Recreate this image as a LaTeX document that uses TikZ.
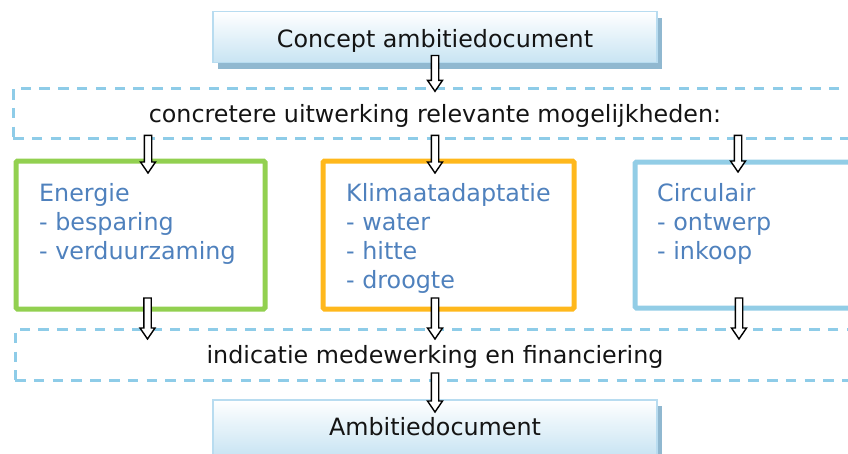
\documentclass[tikz,border=0pt]{standalone}
\usepackage{fontspec}
\setmainfont{DejaVu Sans}
\usetikzlibrary{calc,shadows}
\definecolor{dashblue}{RGB}{142,204,232}
\definecolor{boxgreen}{RGB}{146,208,80}
\definecolor{boxorange}{RGB}{255,184,28}
\definecolor{boxblue}{RGB}{146,205,230}
\definecolor{txtblue}{RGB}{79,129,189}
\definecolor{hdrborder}{RGB}{184,220,240}
\definecolor{hdrshadow}{RGB}{144,184,208}
\definecolor{hdrbottom}{RGB}{200,228,243}
\definecolor{txtblack}{RGB}{20,20,20}
\newcommand\blockarrow[2]{\draw[fill=white,line width=1.4pt,line join=miter]
  let \p1=(#1),\p2=(#2) in
  (\x1-3.7pt,\y1) -- (\x1+3.7pt,\y1) -- (\x1+3.7pt,\y2+11pt) -- (\x1+7.5pt,\y2+11pt)
  -- (\x1,\y2) -- (\x1-7.5pt,\y2+11pt) -- (\x1-3.7pt,\y2+11pt) -- cycle;}
\tikzset{
  hdr/.style={draw=hdrborder, line width=1.8pt, top color=white, bottom color=hdrbottom,
    inner sep=0pt, outer sep=0pt, text=txtblack,
    drop shadow={shadow xshift=5pt, shadow yshift=-6pt, fill=hdrshadow, opacity=1}},
  dashbox/.style={draw=dashblue, line width=3pt, dash pattern=on 10.5pt off 8.3pt,
    inner sep=0pt, outer sep=0pt},
  catbox/.style={line width=5pt, rounded corners=1.5pt, inner sep=0pt, outer sep=0pt},
  cattext/.style={anchor=north west, align=left, text=txtblue, inner sep=0pt},
  midtext/.style={anchor=base, text=txtblack, inner sep=0pt},
}
\begin{document}
\begin{tikzpicture}[x=1pt,y=-1pt]
\useasboundingbox (0,0) rectangle (848,453);
\clip (0,0) rectangle (848,453);
\fontsize{23.8}{29}\selectfont
% header boxes
\node[hdr, minimum width=444pt, minimum height=51pt] (top) at (435,37) {};
\node[midtext] (toptext) at (435,47) {Concept ambitiedocument};
\node[hdr, minimum width=444pt, minimum height=56pt] (bottom) at (435,428) {};
\node[midtext] (bottomtext) at (435,435) {Ambitiedocument};
% dashed bands
\node[dashbox, minimum width=877pt, minimum height=50pt] (dash1) at (451.5,113.3) {};
\node[midtext] (t1) at (435,122.7) {concretere uitwerking relevante mogelijkheden:};
\node[dashbox, minimum width=875pt, minimum height=51pt] (dash2) at (452.5,354.5) {};
\node[midtext] (t2) at (435,363) {indicatie medewerking en financiering};
% category boxes
\node[catbox, draw=boxgreen, minimum width=249pt, minimum height=148pt] (energie) at (140.5,235) {};
\node[catbox, draw=boxorange, minimum width=251pt, minimum height=148pt] (klimaat) at (448.5,235) {};
\node[catbox, draw=boxblue, minimum width=255pt, minimum height=146pt] (circ) at (762.5,235) {};
\node[cattext] (etext) at (39,183.5) {Energie\\- besparing\\- verduurzaming};
\node[cattext] (ktext) at (346,183.5) {Klimaatadaptatie\\- water\\- hitte\\- droogte};
\node[cattext] (ctext) at (657,183.5) {Circulair\\- ontwerp\\- inkoop};
% arrows
\blockarrow{$(top.south)+(0,-7)$}{$(top.south |- dash1.north)+(0,3)$}
\blockarrow{$(dash1.south -| energie.north)+(7.5,-3)$}{$(energie.north)+(7.5,12)$}
\blockarrow{$(dash1.south -| top.south)+(0,-3)$}{$(klimaat.north -| top.south)+(0,12)$}
\blockarrow{$(dash1.south -| circ.north)+(-24.5,-3)$}{$(circ.north)+(-24.5,10)$}
\blockarrow{$(energie.south)+(7,-11)$}{$(energie.south |- dash2.north)+(7,10)$}
\blockarrow{$(klimaat.south -| top.south)+(0,-11)$}{$(top.south |- dash2.north)+(0,10)$}
\blockarrow{$(circ.south)+(-23.5,-10)$}{$(circ.south |- dash2.north)+(-23.5,10)$}
\blockarrow{$(dash2.south -| top.south)+(0,-7)$}{$(bottom.north)+(0,12)$}
\end{tikzpicture}
\end{document}
